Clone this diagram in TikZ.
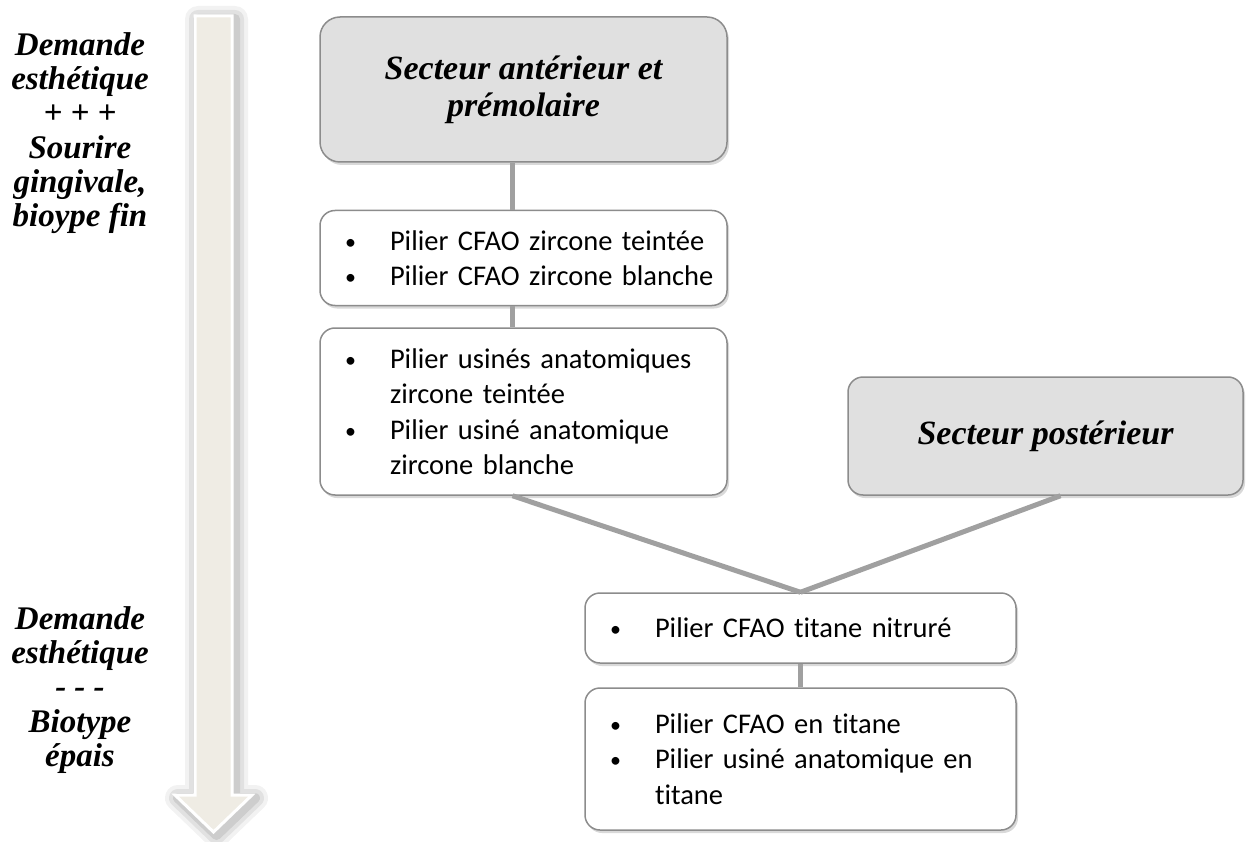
\documentclass[tikz,border=0pt]{standalone}
\usepackage{fontspec}
\setmainfont{Carlito}[Ligatures=NoCommon]
\newfontfamily\headfont{Liberation Serif}
\usepackage{xcolor}
\usepackage{tikz}
\usetikzlibrary{positioning,calc,shadows}
\definecolor{boxgray}{HTML}{E0E0E0}
\definecolor{edgegray}{HTML}{8C8C8C}
\definecolor{linkgray}{HTML}{A0A0A0}
\definecolor{arrowbeige}{HTML}{EFECE4}
\tikzset{
	box/.style={draw=edgegray, line width=1.5pt, rounded corners=15pt,
		drop shadow={shadow xshift=2pt, shadow yshift=-3pt, opacity=0.3}},
	headbox/.style={box, fill=boxgray, align=center,
		font=\headfont\bfseries\itshape\fontsize{34}{37}\selectfont},
	listbox/.style={box, fill=white, align=left, inner xsep=25pt,
		font=\fontsize{28.5}{35.5}\selectfont},
	link/.style={linkgray, line width=5pt},
	sidelabel/.style={align=center, font=\headfont\bfseries\itshape\fontsize{33}{34.3}\selectfont}
}
\newcommand{\bul}[1]{\makebox[45pt][l]{\raisebox{1pt}{\fontsize{22}{22}\selectfont•}}\mbox{#1}}
\newcommand{\ind}{\hspace*{45pt}}

\begin{document}
\begin{tikzpicture}[x=1pt, y=-1pt]
	\useasboundingbox (0,0) rectangle (1257,842);
	
	%% -- Left arrow (demand gradient)
	\foreach \w/\o in {26/0.05, 18/0.07, 10/0.09}
	\draw[black, opacity=\o, line width=\w pt, line join=round]
	(198,19) -- (235,19) -- (235,798) -- (255,798) -- (216.5,835)
	-- (178,798) -- (198,798) -- cycle;
	\draw[white, fill=arrowbeige, line width=3pt, line join=miter]
	(195,16) -- (232,16) -- (232,795) -- (252,795) -- (213.5,832)
	-- (175,795) -- (195,795) -- cycle;
	
	%% -- Side labels
	\node[sidelabel] (high) at (80,133)
	{Demande\\esthétique\\+ + +\\Sourire\\gingivale,\\bioype fin};
	\node[sidelabel] (low) at (80,690)
	{Demande\\esthétique\\- - -\\Biotype\\épais};
	
	%% -- Anterior branch
	\node[headbox, rounded corners=20pt, minimum width=407pt, minimum height=145pt]
	(ant) at (523.5,89.5) {Secteur antérieur et\\prémolaire};
	
	\node[listbox, text width=357pt, minimum height=95pt] (cfaoz) at (523.5,258)
	{\bul{Pilier CFAO zircone teintée}\\\bul{Pilier CFAO zircone blanche}};
	
	\node[listbox, text width=357pt, minimum height=167pt] (usinz) at (523.5,411.5)
	{\bul{Pilier usinés anatomiques}\\\ind zircone teintée\\
		\bul{Pilier usiné anatomique}\\\ind zircone blanche};
	
	%% -- Posterior branch
	\node[headbox, minimum width=395pt, minimum height=118pt] (post) at (1045.5,436)
	{Secteur postérieur};
	
	\node[listbox, text width=381pt, minimum height=70pt] (nitr) at (800.5,628)
	{\bul{Pilier CFAO titane nitruré}};
	
	\node[listbox, text width=381pt, minimum height=142pt] (tit) at (800.5,759)
	{\bul{Pilier CFAO en titane}\\\bul{Pilier usiné anatomique en}\\\ind titane};
	
	%% -- Connectors
	\draw[link] ([xshift=-11pt]ant.south) -- ([xshift=-11pt]cfaoz.north);
	\draw[link] ([xshift=-11pt]cfaoz.south) -- ([xshift=-11pt]usinz.north);
	\draw[link] ([xshift=-11pt]usinz.south) -- (nitr.north);
	\draw[link] ([xshift=15pt]post.south) -- (nitr.north);
	\draw[link] (nitr.south) -- (tit.north);
	
\end{tikzpicture}
\end{document}
